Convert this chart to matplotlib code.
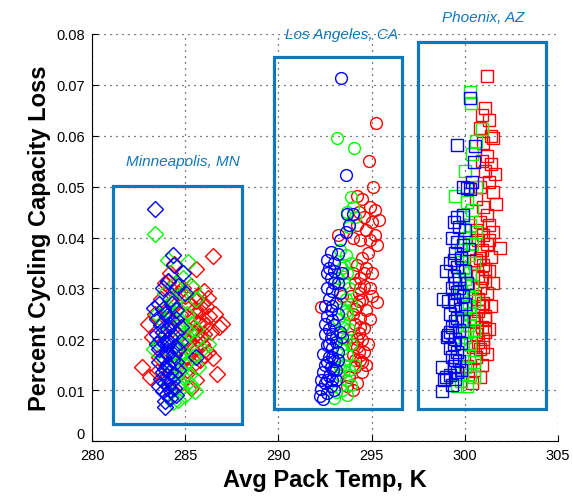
import numpy as np
import matplotlib
matplotlib.use("Agg")
import matplotlib.pyplot as plt
from matplotlib.patches import Rectangle

# pack temperature (K) vs cycling capacity loss, three cities, three colours each

# Minneapolis, MN (diamonds)
mpls_red = [
    (282.7, 0.0145), (283.1, 0.0125), (283.5, 0.0135), (283.0, 0.0230), (283.4, 0.0250),
    (283.7, 0.0280), (283.9, 0.0310), (284.2, 0.0330), (284.4, 0.0348), (284.6, 0.0290),
    (284.9, 0.0300), (285.3, 0.0305), (285.6, 0.0338), (286.5, 0.0364), (285.2, 0.0270),
    (285.5, 0.0260), (285.8, 0.0255), (286.1, 0.0265), (285.9, 0.0235), (286.3, 0.0245),
    (286.6, 0.0250), (286.8, 0.0225), (287.0, 0.0230), (286.4, 0.0215), (286.0, 0.0210),
    (285.7, 0.0200), (285.4, 0.0215), (285.2, 0.0195), (285.5, 0.0185), (285.9, 0.0190),
    (286.5, 0.0163), (286.2, 0.0175), (285.8, 0.0160), (286.7, 0.0132), (285.4, 0.0150),
    (285.1, 0.0140), (285.6, 0.0120), (285.3, 0.0105), (284.8, 0.0115), (284.5, 0.0125),
    (284.9, 0.0160), (284.6, 0.0185), (284.3, 0.0220), (284.0, 0.0240), (284.7, 0.0250),
    (285.0, 0.0225), (286.0, 0.0295), (285.7, 0.0285), (284.1, 0.0313), (285.6, 0.0275),
    (285.9, 0.0270), (286.2, 0.0282), (285.4, 0.0240), (285.7, 0.0232), (286.1, 0.0228),
    (285.6, 0.0210), (285.9, 0.0205), (285.3, 0.0180), (286.0, 0.0170), (285.1, 0.0165),
    (284.4, 0.0265), (285.0, 0.0285), (284.2, 0.0300), (283.2, 0.0205), (283.6, 0.0165),
]
mpls_green = [
    (283.4, 0.0407), (284.1, 0.0355), (285.15, 0.0352), (284.9, 0.0320), (285.4, 0.0300),
    (285.6, 0.0280), (283.9, 0.0290), (284.4, 0.0275), (283.5, 0.0250), (283.8, 0.0235),
    (284.6, 0.0260), (285.1, 0.0250), (285.3, 0.0230), (285.6, 0.0220), (285.9, 0.0180),
    (286.2, 0.0190), (285.0, 0.0205), (284.7, 0.0215), (284.3, 0.0200), (283.6, 0.0195),
    (283.3, 0.0180), (284.9, 0.0175), (285.4, 0.0165), (285.7, 0.0145), (285.2, 0.0130),
    (284.8, 0.0140), (284.5, 0.0150), (284.1, 0.0120), (284.8, 0.0105), (285.3, 0.0110),
    (285.0, 0.0090), (284.6, 0.0080), (284.35, 0.0077), (285.5, 0.0098), (284.2, 0.0170),
    (283.9, 0.0160), (284.0, 0.0265), (284.5, 0.0310), (284.8, 0.0235), (285.0, 0.0190),
    (284.7, 0.0165), (285.1, 0.0155), (284.9, 0.0125), (284.6, 0.0110), (285.2, 0.0215),
    (284.7, 0.0285), (284.3, 0.0245),
]
mpls_blue = [
    (283.4, 0.0456), (284.35, 0.0366), (284.4, 0.0345), (284.9, 0.0330), (284.1, 0.0315),
    (283.8, 0.0300), (284.6, 0.0305), (285.0, 0.0290), (284.2, 0.0280), (283.6, 0.0270),
    (283.3, 0.0262), (283.9, 0.0250), (284.0, 0.0245), (284.5, 0.0258), (284.3, 0.0235),
    (283.7, 0.0228), (284.1, 0.0220), (284.8, 0.0225), (283.5, 0.0210), (284.2, 0.0205),
    (284.0, 0.0198), (283.9, 0.0190), (284.4, 0.0185), (283.6, 0.0180), (284.7, 0.0195),
    (284.1, 0.0172), (283.8, 0.0165), (284.3, 0.0160), (284.0, 0.0150), (284.5, 0.0155),
    (283.9, 0.0142), (284.2, 0.0135), (284.6, 0.0140), (284.0, 0.0128), (283.7, 0.0122),
    (284.3, 0.0118), (284.1, 0.0110), (284.4, 0.0105), (283.8, 0.0098), (284.0, 0.0092),
    (284.2, 0.0085), (283.9, 0.0078), (285.6, 0.0165), (284.5, 0.0090), (283.9, 0.0067),
    (283.9, 0.0115), (283.5, 0.0240), (283.8, 0.0215), (284.2, 0.0228), (284.5, 0.0212),
    (283.7, 0.0200), (284.1, 0.0190), (284.4, 0.0170), (283.6, 0.0155), (284.1, 0.0150),
    (284.4, 0.0132), (283.8, 0.0135), (284.2, 0.0100), (283.6, 0.0108), (284.5, 0.0240),
    (284.3, 0.0270), (283.8, 0.0260), (284.6, 0.0180), (284.0, 0.0175), (283.5, 0.0190),
]

# Los Angeles, CA (circles)
la_red = [
    (295.24, 0.0625), (294.86, 0.0550), (295.1, 0.0500), (294.2, 0.0482), (294.5, 0.0475),
    (294.9, 0.0460), (295.2, 0.0455), (294.3, 0.0450), (294.6, 0.0440), (295.0, 0.0430),
    (295.4, 0.0435), (294.2, 0.0425), (294.7, 0.0415), (295.2, 0.0405), (294.9, 0.0395),
    (294.4, 0.0395), (295.3, 0.0385), (294.8, 0.0370), (294.5, 0.0360), (294.2, 0.0345),
    (294.7, 0.0340), (295.0, 0.0330), (294.4, 0.0320), (294.1, 0.0310), (294.6, 0.0305),
    (294.9, 0.0300), (294.3, 0.0290), (293.9, 0.0285), (294.5, 0.0278), (295.0, 0.0285),
    (295.3, 0.0273), (294.2, 0.0265), (294.7, 0.0258), (294.0, 0.0250), (294.4, 0.0242),
    (294.9, 0.0240), (294.1, 0.0230), (294.6, 0.0222), (294.3, 0.0212), (293.9, 0.0205),
    (294.5, 0.0198), (294.8, 0.0190), (294.2, 0.0185), (294.6, 0.0175), (294.0, 0.0170),
    (294.4, 0.0160), (294.5, 0.0155), (294.7, 0.0150), (294.1, 0.0145), (294.5, 0.0135),
    (293.8, 0.0125), (294.2, 0.0115), (293.7, 0.0109), (294.0, 0.0100), (292.3, 0.0264),
    (293.4, 0.0285), (293.2, 0.0405), (294.0, 0.0400), (294.3, 0.0275), (294.1, 0.0260),
    (294.4, 0.0225), (294.2, 0.0200), (294.0, 0.0190), (294.3, 0.0175), (294.1, 0.0160),
    (294.4, 0.0300), (294.6, 0.0330), (294.0, 0.0330),
]
la_green = [
    (293.14, 0.0596), (294.06, 0.0576), (293.9, 0.0480), (294.0, 0.0460), (293.7, 0.0450),
    (294.1, 0.0440), (293.8, 0.0420), (293.3, 0.0375), (293.6, 0.0365), (293.9, 0.0350),
    (293.4, 0.0340), (293.7, 0.0330), (293.2, 0.0320), (293.5, 0.0310), (293.8, 0.0300),
    (293.3, 0.0290), (293.6, 0.0280), (293.9, 0.0270), (293.4, 0.0260), (293.7, 0.0250),
    (293.2, 0.0240), (293.5, 0.0230), (293.8, 0.0220), (293.3, 0.0210), (293.6, 0.0200),
    (293.9, 0.0190), (293.4, 0.0180), (293.7, 0.0170), (293.2, 0.0160), (293.5, 0.0150),
    (293.8, 0.0140), (293.5, 0.0137), (293.3, 0.0130), (293.6, 0.0120), (293.9, 0.0110),
    (293.4, 0.0100), (293.1, 0.0096), (293.7, 0.0090), (293.0, 0.0085), (294.1, 0.0150),
    (293.5, 0.0345), (293.6, 0.0255), (293.4, 0.0225), (293.5, 0.0190), (293.3, 0.0145),
]
la_blue = [
    (293.36, 0.0713), (293.6, 0.0523), (293.7, 0.0446), (294.0, 0.0446), (293.6, 0.0410),
    (293.8, 0.0425), (293.3, 0.0395), (292.8, 0.0372), (293.2, 0.0368), (292.6, 0.0355),
    (293.0, 0.0350), (292.6, 0.0330), (293.0, 0.0335), (293.4, 0.0330), (292.8, 0.0320),
    (293.2, 0.0310), (292.6, 0.0300), (292.9, 0.0295), (293.3, 0.0290), (292.7, 0.0280),
    (293.1, 0.0272), (292.5, 0.0265), (292.8, 0.0258), (293.2, 0.0250), (292.6, 0.0245),
    (292.9, 0.0238), (293.0, 0.0228), (292.7, 0.0220), (293.3, 0.0215), (292.5, 0.0210),
    (292.8, 0.0202), (293.1, 0.0195), (292.6, 0.0188), (292.9, 0.0182), (293.2, 0.0175),
    (292.4, 0.0172), (292.7, 0.0165), (293.0, 0.0158), (292.5, 0.0150), (292.8, 0.0145),
    (293.1, 0.0140), (292.4, 0.0135), (292.7, 0.0128), (292.9, 0.0120), (292.5, 0.0115),
    (292.8, 0.0108), (292.3, 0.0102), (292.6, 0.0095), (292.23, 0.0089), (292.4, 0.0082),
    (293.2, 0.0160), (293.4, 0.0205), (293.1, 0.0120), (292.9, 0.0265), (293.0, 0.0310),
    (292.7, 0.0340), (292.9, 0.0210), (292.7, 0.0190), (292.6, 0.0155), (292.9, 0.0165),
    (292.6, 0.0120), (293.0, 0.0100), (292.3, 0.0120), (292.5, 0.0230), (292.95, 0.0140),
]

# Phoenix, AZ (squares)
phx_red = [
    (301.2, 0.0718), (301.1, 0.0655), (300.9, 0.0640), (301.3, 0.0630), (300.8, 0.0615),
    (301.4, 0.0600), (301.0, 0.0585), (301.5, 0.0595), (301.2, 0.0560), (300.9, 0.0550),
    (301.4, 0.0545), (301.1, 0.0530), (301.6, 0.0525), (301.3, 0.0510), (300.8, 0.0500),
    (301.5, 0.0490), (301.7, 0.0465), (301.0, 0.0460), (300.6, 0.0475), (301.2, 0.0445),
    (300.8, 0.0430), (301.3, 0.0425), (300.6, 0.0415), (301.0, 0.0405), (301.5, 0.0410),
    (301.9, 0.0379), (300.7, 0.0395), (301.2, 0.0388), (300.9, 0.0375), (301.4, 0.0362),
    (300.6, 0.0355), (301.0, 0.0345), (301.1, 0.0338), (301.3, 0.0335), (300.7, 0.0325),
    (301.1, 0.0315), (301.5, 0.0310), (300.8, 0.0300), (301.2, 0.0290), (300.5, 0.0285),
    (301.0, 0.0272), (301.4, 0.0265), (300.7, 0.0255), (301.1, 0.0245), (301.1, 0.0240),
    (300.5, 0.0235), (300.9, 0.0225), (301.3, 0.0220), (301.08, 0.0214), (300.6, 0.0210),
    (301.0, 0.0200), (300.45, 0.0184), (300.8, 0.0180), (301.2, 0.0172), (300.6, 0.0165),
    (300.9, 0.0150), (300.1, 0.0148), (300.5, 0.0140), (300.8, 0.0125), (300.4, 0.0115),
    (301.3, 0.0395), (300.8, 0.0360), (300.7, 0.0280), (300.9, 0.0265), (300.6, 0.0240),
    (300.9, 0.0320), (300.7, 0.0195), (301.0, 0.0185),
]
phx_green = [
    (300.3, 0.0685), (300.35, 0.0665), (300.94, 0.0613), (300.6, 0.0590), (300.4, 0.0565),
    (300.0, 0.0530), (300.6, 0.0500), (299.47, 0.0482), (300.1, 0.0470), (300.4, 0.0455),
    (299.9, 0.0440), (300.3, 0.0425), (300.6, 0.0410), (300.0, 0.0400), (300.4, 0.0388),
    (299.8, 0.0375), (300.2, 0.0365), (300.5, 0.0350), (299.9, 0.0340), (300.3, 0.0330),
    (300.0, 0.0318), (300.4, 0.0305), (299.8, 0.0295), (300.2, 0.0285), (300.5, 0.0275),
    (300.0, 0.0262), (300.3, 0.0250), (299.8, 0.0240), (300.2, 0.0228), (300.5, 0.0218),
    (300.0, 0.0205), (300.3, 0.0192), (299.9, 0.0180), (300.2, 0.0168), (300.5, 0.0155),
    (300.0, 0.0145), (300.3, 0.0130), (299.8, 0.0118), (300.1, 0.0108), (299.6, 0.0108),
    (300.5, 0.0125), (300.2, 0.0400), (300.1, 0.0310), (300.2, 0.0265), (300.1, 0.0215),
]
phx_blue = [
    (300.3, 0.0674), (299.56, 0.0582), (300.55, 0.0580), (300.5, 0.0549), (300.4, 0.0510),
    (299.9, 0.0500), (300.1, 0.0498), (300.3, 0.0495), (299.6, 0.0440), (299.9, 0.0445),
    (299.4, 0.0430), (299.7, 0.0420), (300.0, 0.0415), (299.3, 0.0400), (299.6, 0.0392),
    (299.9, 0.0385), (300.2, 0.0378), (299.5, 0.0370), (299.8, 0.0360), (299.2, 0.0350),
    (299.0, 0.0335), (299.6, 0.0342), (300.0, 0.0335), (299.4, 0.0325), (299.7, 0.0318),
    (300.1, 0.0310), (299.3, 0.0300), (299.6, 0.0292), (299.9, 0.0285), (298.85, 0.0279),
    (299.1, 0.0275), (299.5, 0.0268), (299.8, 0.0260), (299.2, 0.0250), (299.6, 0.0242),
    (299.9, 0.0235), (299.3, 0.0225), (299.7, 0.0218), (299.1, 0.0208), (299.03, 0.0204),
    (299.5, 0.0200), (299.8, 0.0192), (299.2, 0.0182), (299.6, 0.0175), (299.3, 0.0165),
    (299.7, 0.0158), (299.4, 0.0148), (298.76, 0.0145), (299.8, 0.0140), (299.2, 0.0130),
    (299.5, 0.0122), (299.0, 0.0125), (298.9, 0.0119), (298.8, 0.0098), (299.3, 0.0110),
    (299.6, 0.0135), (300.0, 0.0270), (299.4, 0.0355), (299.5, 0.0310), (299.4, 0.0280),
    (299.5, 0.0235), (299.4, 0.0190), (299.5, 0.0160), (299.2, 0.0215), (299.7, 0.0300),
]

# region boxes: (x0, x1, y0, y1) and their labels
boxes = [(281.13, 288.05, 0.0033, 0.0501),
         (289.76, 296.63, 0.0063, 0.0755),
         (297.49, 304.36, 0.0063, 0.0784)]
box_names = ["Minneapolis, MN", "Los Angeles, CA", "Phoenix, AZ"]
name_pos = [(284.9, 0.0551), (293.4, 0.0800), (301.0, 0.0833)]

boxcol = "#1177bb"

fig = plt.figure(figsize=(5.73, 5.02), dpi=100)
ax = fig.add_axes([0.1606, 0.1195, 0.8132, 0.8108])

groups = [("D", mpls_red, mpls_green, mpls_blue),
          ("o", la_red, la_green, la_blue),
          ("s", phx_red, phx_green, phx_blue)]
for mk, r, g, b in groups:
    for pts, c in ((r, "#ff0000"), (g, "#00ff00"), (b, "#0000ff")):
        p = np.array(pts)
        ax.plot(p[:, 0], p[:, 1], linestyle="none", marker=mk, ms=8.5 if mk != "D" else 8,
                mfc="none", mec=c, mew=1.0, zorder=3)

for (x0, x1, y0, y1), nm, (tx, ty) in zip(boxes, box_names, name_pos):
    ax.add_patch(Rectangle((x0, y0), x1 - x0, y1 - y0, fill=False, ec=boxcol, lw=2.3, zorder=4))
    ax.text(tx, ty, nm, color=boxcol, fontsize=11, style="italic", family="Liberation Sans",
            ha="center", va="center", clip_on=False)

ax.set_xlim(280, 305)
ax.set_ylim(0, 0.08)
ax.set_xticks([280, 285, 290, 295, 300, 305])
ax.set_yticks(np.arange(0, 0.081, 0.01))
ax.set_yticklabels(["0"] + [f"{v:.2f}" for v in np.arange(0.01, 0.081, 0.01)])
ax.grid(True, color="black", linestyle=(0, (0.8, 4)), linewidth=0.9)
ax.set_axisbelow(True)
for s in ("top", "right"):
    ax.spines[s].set_visible(False)
ax.tick_params(direction="in", length=4, labelsize=10.5, colors="black")
ax.tick_params(axis="y", pad=5)
ax.tick_params(axis="x", pad=5)
for lb in ax.get_xticklabels() + ax.get_yticklabels():
    lb.set_family("Liberation Sans")
# lift the "0" a little so it sits above the 280 label
ax.get_yticklabels()[0].set_verticalalignment("bottom")

ax.set_xlabel("Avg Pack Temp, K", fontsize=17, fontweight="bold", family="Liberation Sans")
ax.set_ylabel("Percent Cycling Capacity Loss", fontsize=17, fontweight="bold",
              family="Liberation Sans")

fig.savefig("out.png", dpi=100)
